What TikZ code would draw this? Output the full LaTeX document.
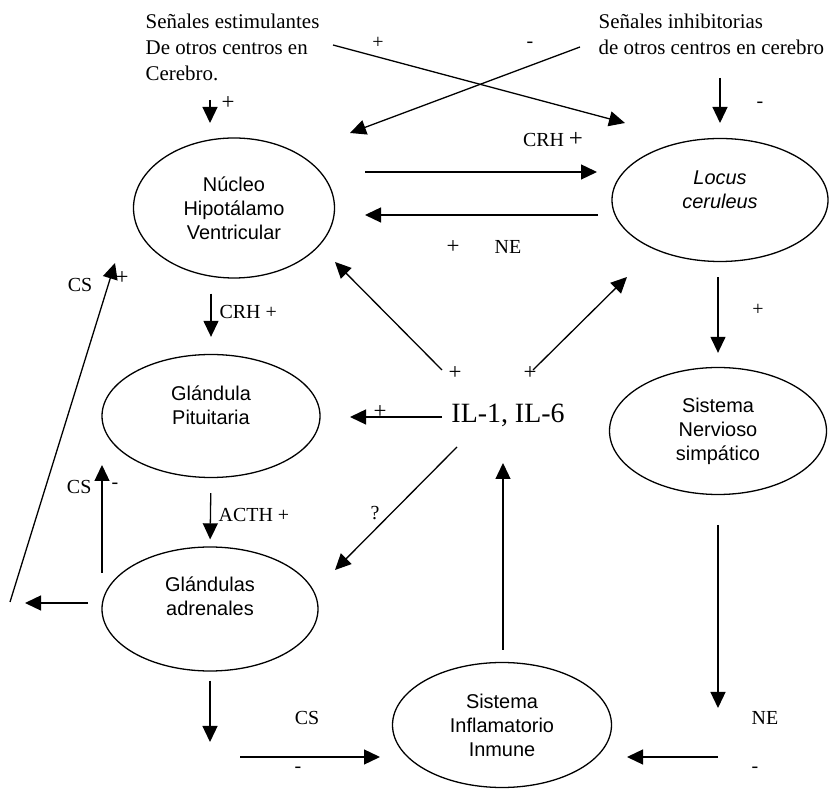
\documentclass[tikz,border=0pt]{standalone}
\usepackage{fontspec}
\setmainfont{Liberation Serif}
\setsansfont{Liberation Sans}
\usetikzlibrary{shapes.geometric,arrows.meta}
\tikzset{
  organ/.style={draw,ellipse,inner sep=0pt,align=center,font=\sffamily\fontsize{20}{24}\selectfont},
  sig/.style={anchor=west,inner sep=0pt,align=left,font=\fontsize{21}{26}\selectfont},
  lbl/.style={inner sep=0pt,font=\fontsize{20}{22}\selectfont},
  sign/.style={inner sep=0pt,font=\fontsize{23}{24}\selectfont},
}
\begin{document}
\begin{tikzpicture}[>={Triangle[length=16bp,width=15bp]},line join=bevel,line width=1.3pt]
\useasboundingbox (0bp,0bp) rectangle (835bp,790bp);
%%
\node (estim) at (145bp,743bp) [sig] {Señales estimulantes\\De otros centros en\\Cerebro.};
\node (inhib) at (598bp,756bp) [sig] {Señales inhibitorias\\de otros centros en cerebro};
%
\node (nhv) at (234bp,582bp) [organ,minimum width=201bp,minimum height=140bp] {Núcleo\\Hipotálamo\\Ventricular};
\node (locus) at (720bp,590bp) [organ,minimum width=216bp,minimum height=123bp,font=\sffamily\itshape\fontsize{20}{24}\selectfont] {Locus\\ceruleus\\[-4pt]\mbox{}};
\node (pit) at (211bp,374bp) [organ,minimum width=218bp,minimum height=123bp] {Glándula\\Pituitaria\\[-2pt]\mbox{}};
\node (adr) at (210bp,181bp) [organ,minimum width=216bp,minimum height=124bp] {Glándulas\\adrenales\\[2pt]\mbox{}};
\node (sns) at (718bp,359bp) [organ,minimum width=217bp,minimum height=127bp] {Sistema\\Nervioso\\simpático};
\node (sii) at (502bp,65bp) [organ,minimum width=219bp,minimum height=125bp] {Sistema\\Inflamatorio\\Inmune};
\node (il) at (508bp,375bp) [inner sep=0pt,font=\fontsize{28}{30}\selectfont] {IL-1, IL-6};
%% free ends
\coordinate (estim_out) at (210bp,690bp);
\coordinate (nhv_in) at (210bp,667bp);
\coordinate (cross_a) at (333bp,745bp);
\coordinate (cross_a_end) at (625bp,667bp);
\coordinate (cross_b) at (580bp,743bp);
\coordinate (cross_b_end) at (350bp,657bp);
\coordinate (inhib_out) at (720bp,712bp);
\coordinate (locus_in) at (720bp,667bp);
\coordinate (crh_from) at (365bp,618bp);
\coordinate (crh_to) at (597bp,618bp);
\coordinate (ne_from) at (598bp,575bp);
\coordinate (ne_to) at (365bp,575bp);
\coordinate (cs_up_from) at (102bp,217bp);
\coordinate (cs_up_to) at (102bp,325bp);
\coordinate (adr_left_from) at (88bp,187bp);
\coordinate (adr_left_to) at (25bp,187bp);
\coordinate (cs_long_from) at (10bp,188bp);
\coordinate (cs_long_to) at (115bp,527bp);
\coordinate (adr_down_to) at (210bp,48bp);
\coordinate (cs_sii_from) at (240bp,33bp);
\coordinate (cs_sii_to) at (380bp,33bp);
\coordinate (sns_down_from) at (718bp,265bp);
\coordinate (sns_down_to) at (718bp,82bp);
\coordinate (ne_sii_from) at (718bp,33bp);
\coordinate (ne_sii_to) at (627bp,33bp);
\coordinate (sii_up_to) at (503bp,327bp);
\coordinate (il_nw) at (442bp,420bp);
\coordinate (il_nw_to) at (335bp,528bp);
\coordinate (il_ne) at (533bp,420bp);
\coordinate (il_ne_to) at (627bp,513bp);
\coordinate (il_w) at (442bp,373bp);
\coordinate (il_w_to) at (350bp,373bp);
\coordinate (il_sw) at (457bp,343bp);
\coordinate (il_sw_to) at (335bp,220bp);
%% connectors
\draw [->] (estim_out) -- (nhv_in);
\draw [->] (cross_a) -- (cross_a_end);
\draw [->] (cross_b) -- (cross_b_end);
\draw [->] (inhib_out) -- (locus_in);
\draw [->] (crh_from) -- (crh_to);
\draw [->] (ne_from) -- (ne_to);
\draw [->,shorten <=15bp,shorten >=14bp] (locus.south -| sns) -- (sns.north);
\draw [->,shorten <=15bp,shorten >=17bp] (nhv.south -| pit) -- (pit.north);
\draw [->,shorten <=15bp,shorten >=7bp] (pit.south) -- (adr.north);
\draw [->] (cs_up_from) -- (cs_up_to);
\draw [->] (adr_left_from) -- (adr_left_to);
\draw [->] (cs_long_from) -- (cs_long_to);
\draw [->,shorten <=9bp] (adr.south) -- (adr_down_to);
\draw [->] (cs_sii_from) -- (cs_sii_to);
\draw [->] (sns_down_from) -- (sns_down_to);
\draw [->] (ne_sii_from) -- (ne_sii_to);
\draw [->,shorten <=12bp] (sii.north -| sii_up_to) -- (sii_up_to);
\draw [->] (il_nw) -- (il_nw_to);
\draw [->] (il_ne) -- (il_ne_to);
\draw [->] (il_w) -- (il_w_to);
\draw [->] (il_sw) -- (il_sw_to);
%% labels
\node (plus_estim) at (228bp,687bp) [sign] {+};
\node (plus_cross) at (378bp,747bp) [lbl] {+};
\node (minus_cross) at (530bp,745bp) [lbl] {-};
\node (minus_inhib) at (760bp,685bp) [lbl] {-};
\node (crh_lc) at (553bp,650bp) [lbl] {CRH {\fontsize{25}{25}\selectfont +}};
\node (plus_ne) at (453bp,543bp) [sign] {+};
\node (ne_top) at (508bp,543bp) [lbl] {NE};
\node (plus_lc) at (758bp,480bp) [lbl] {+};
\node (crh_pit) at (219bp,478bp) [lbl,anchor=west] {CRH +};
\node (acth) at (218bp,275bp) [lbl,anchor=west] {ACTH +};
\node (cs_pit) at (92bp,303bp) [lbl,anchor=east] {CS};
\node (minus_pit) at (115bp,304bp) [lbl] {-};
\node (cs_nhv) at (80bp,505bp) [lbl] {CS};
\node (plus_nhv) at (122bp,512bp) [sign] {+};
\node (cs_sii) at (307bp,72bp) [lbl] {CS};
\node (minus_sii) at (298bp,20bp) [lbl] {-};
\node (ne_sii) at (765bp,72bp) [lbl] {NE};
\node (minus_ne) at (755bp,20bp) [lbl] {-};
\node (plus_il1) at (455bp,417bp) [sign] {+};
\node (plus_il2) at (530bp,417bp) [sign] {+};
\node (plus_pit) at (380bp,378bp) [sign] {+};
\node (quest) at (375bp,277bp) [lbl] {?};
%
\end{tikzpicture}
\end{document}
